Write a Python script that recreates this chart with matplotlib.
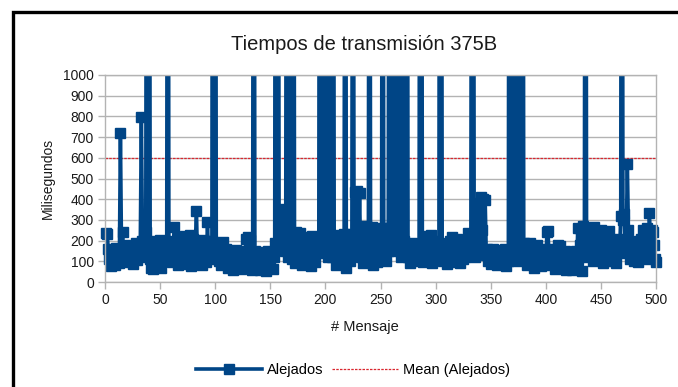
import numpy as np
import matplotlib.pyplot as plt
from matplotlib.patches import Rectangle

plt.rcParams['font.family'] = ['Liberation Sans', 'DejaVu Sans']

# tiempos de transmisión (ms) de los mensajes "Alejados", 500 envíos
alejados = [
    235, 230, 160, 110, 75, 140, 95, 120, 80, 165, 100, 130, 90, 720, 150, 240, 110, 180, 95, 150,
    120, 175, 100, 140, 85, 160, 120, 190, 105, 150, 130, 180, 795, 200, 120, 170, 240, 4200, 150, 5100,
    110, 70, 180, 65, 140, 200, 75, 150, 90, 205, 70, 130, 180, 100, 190, 140, 4600, 120, 200, 150,
    95, 180, 265, 110, 200, 80, 170, 130, 215, 90, 160, 120, 220, 85, 175, 140, 225, 75, 150, 210,
    100, 190, 345, 90, 160, 130, 205, 80, 150, 120, 200, 95, 290, 110, 180, 140, 200, 5300, 160, 4400,
    130, 190, 100, 170, 80, 150, 195, 110, 90, 160, 120, 70, 140, 95, 150, 60, 130, 100, 155, 75,
    120, 145, 65, 110, 150, 80, 130, 210, 95, 215, 140, 205, 60, 120, 4900, 150, 70, 130, 90, 145,
    60, 120, 85, 140, 100, 55, 130, 150, 75, 110, 140, 65, 120, 190, 5200, 170, 4300, 210, 200, 355,
    290, 340, 150, 220, 4700, 120, 5400, 140, 4100, 110, 5000, 90, 240, 130, 180, 100, 235, 140, 80, 170,
    110, 200, 90, 215, 130, 160, 75, 220, 120, 180, 95, 215, 140, 190, 4800, 150, 5600, 200, 4500, 150,
    5100, 120, 4300, 180, 5300, 120, 4600, 140, 210, 80, 170, 225, 110, 190, 95, 160, 230, 4900, 70, 140,
    205, 100, 230, 150, 4200, 180, 435, 200, 440, 130, 430, 120, 260, 90, 220, 150, 270, 110, 230, 5000,
    140, 265, 80, 200, 120, 250, 95, 220, 140, 180, 260, 4700, 130, 240, 100, 210, 150, 4400, 260, 5200,
    180, 4600, 200, 5500, 150, 4300, 230, 5000, 120, 4800, 200, 5300, 150, 4500, 120, 180, 90, 160, 190, 110,
    170, 100, 185, 130, 150, 4900, 4400, 140, 95, 190, 120, 220, 100, 210, 150, 225, 90, 170, 200, 110,
    160, 120, 190, 5100, 4600, 150, 100, 180, 130, 85, 170, 120, 200, 95, 215, 140, 180, 100, 210, 130,
    170, 90, 200, 150, 110, 180, 120, 165, 235, 140, 230, 190, 4800, 5200, 200, 120, 150, 380, 200, 140,
    410, 250, 400, 150, 395, 130, 160, 100, 150, 85, 140, 160, 95, 130, 155, 80, 140, 110, 150, 90,
    145, 120, 160, 75, 140, 100, 4500, 150, 5400, 120, 4700, 140, 5100, 100, 4400, 130, 5000, 150, 4600, 190,
    110, 170, 80, 150, 120, 190, 90, 140, 70, 165, 110, 180, 85, 150, 125, 75, 160, 100, 140, 90,
    240, 245, 120, 160, 80, 150, 110, 65, 140, 100, 180, 120, 175, 70, 130, 90, 150, 60, 120, 100,
    140, 75, 130, 60, 110, 90, 150, 70, 260, 120, 180, 255, 55, 270, 150, 4900, 200, 260, 120, 255,
    160, 230, 100, 265, 140, 200, 110, 240, 130, 250, 170, 90, 240, 150, 200, 110, 245, 140, 190, 100,
    180, 120, 200, 90, 160, 210, 150, 320, 5300, 300, 330, 140, 200, 570, 250, 110, 190, 140, 200, 100,
    170, 130, 190, 95, 160, 210, 120, 250, 180, 110, 200, 260, 150, 335, 200, 250, 240, 180, 110, 95,
]
mensaje = np.arange(1, len(alejados) + 1)
media = np.mean(alejados)

azul = '#004586'
rojo = '#d9262f'
gris = '#b3b3b3'
texto = '#1a1a1a'

fig = plt.figure(figsize=(6.78, 3.87), dpi=100)
ax = fig.add_axes([105 / 678, 1 - 282 / 387, 551 / 678, 207 / 387])

# línea de la media por debajo de la serie
ax.axhline(media, color=rojo, lw=0.9, ls=(0, (2, 1)), zorder=1.5)
linea, = ax.plot(mensaje, alejados, color=azul, lw=2.6, marker='s', ms=6.5,
                 mec=azul, mfc=azul, zorder=2)
# recorte solo en vertical, los marcadores de los extremos pueden salirse
linea.set_clip_path(Rectangle((-0.05, 0), 1.1, 1, transform=ax.transAxes))

ax.set_xlim(0, 500)
ax.set_ylim(0, 1000)
ax.set_xticks(np.arange(0, 501, 50))
ax.set_yticks(np.arange(0, 1001, 100))
ax.yaxis.grid(True, color=gris, lw=1)
ax.set_axisbelow(True)
for s in ax.spines.values():
    s.set_color(gris)
    s.set_linewidth(1)
ax.tick_params(length=5, width=1, color=gris, labelsize=10, labelcolor=texto, pad=3)

# título y etiqueta x centrados en el marco, no en el área de trazado
fig.text(364 / 678, 1 - 44 / 387, 'Tiempos de transmisión 375B', fontsize=14.5,
         color=texto, ha='center', va='center')
fig.text(365 / 678, 1 - 327 / 387, '# Mensaje', fontsize=10.5,
         color=texto, ha='center', va='center')
ax.set_ylabel('Milisegundos', fontsize=10, labelpad=6, color=texto)

h1 = plt.Line2D([], [], color=azul, lw=2.6, marker='s', ms=6.5)
h2 = plt.Line2D([], [], color=rojo, lw=0.9, ls=(0, (2, 1)))
fig.legend([h1, h2], ['Alejados', 'Mean (Alejados)'], loc='center',
           bbox_to_anchor=(0.521, 1 - 370 / 387), ncol=2, frameon=False,
           fontsize=10.5, handlelength=4.5, handletextpad=0.35, columnspacing=0.6,
           numpoints=1)

# marco negro del gráfico
fig.patches.append(Rectangle((13 / 678, -0.2), 1.3, 1.2 - 12 / 387,
                             transform=fig.transFigure, fill=False,
                             ec='black', lw=2.4))

fig.savefig('out.png', dpi=100)
